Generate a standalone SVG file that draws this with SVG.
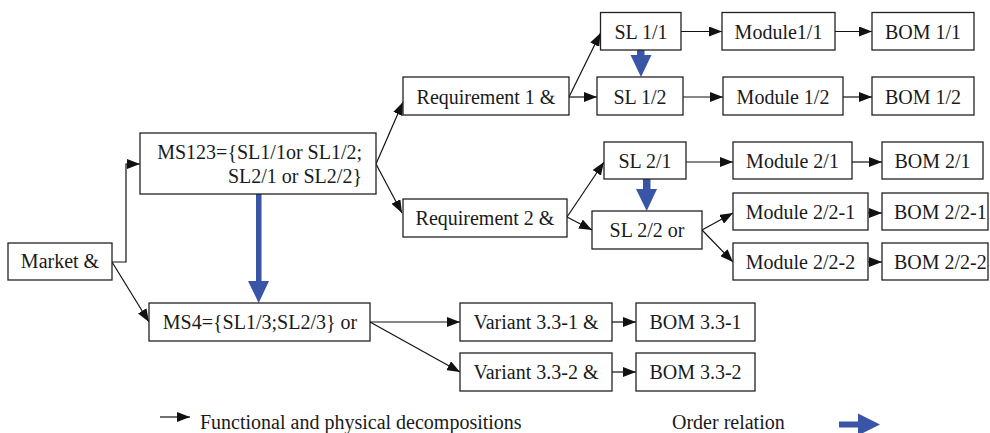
<svg xmlns="http://www.w3.org/2000/svg" width="990" height="433" viewBox="0 0 990 433">
<style>
.box{fill:#fff;stroke:#222;stroke-width:1.3}
.t{font-family:"Liberation Serif","Times New Roman",serif;font-size:20px;fill:#1a1a1a;text-anchor:middle}
.c{stroke:#111;stroke-width:1.2;fill:none;marker-end:url(#ah)}
.o{fill:#3b55a6;stroke:none}
</style>
<defs>
<marker id="ah" markerUnits="userSpaceOnUse" markerWidth="13" markerHeight="10" refX="13" refY="5" orient="auto">
<path d="M0,0 L13,5 L0,10 z" fill="#111"/>
</marker>
</defs>
<rect width="990" height="433" fill="#fff"/>

<g id="connectors">
<polyline class="c" points="112,262 126,262 126,164 140,164"/>
<line class="c" x1="112" y1="262" x2="149" y2="322"/>
<line class="c" x1="376" y1="164" x2="403" y2="102"/>
<line class="c" x1="376" y1="164" x2="402" y2="213"/>
<line class="c" x1="569" y1="97" x2="600.5" y2="33"/>
<line class="c" x1="569" y1="97" x2="597" y2="97"/>
<line class="c" x1="681" y1="31.5" x2="722" y2="31.5"/>
<line class="c" x1="835" y1="31.5" x2="872" y2="31.5"/>
<line class="c" x1="683" y1="97" x2="723" y2="97"/>
<line class="c" x1="843" y1="97" x2="872" y2="97"/>
<line class="c" x1="567" y1="217" x2="604" y2="162"/>
<line class="c" x1="567" y1="217" x2="592" y2="230"/>
<line class="c" x1="686" y1="162" x2="733" y2="162"/>
<line class="c" x1="852" y1="162" x2="882" y2="162"/>
<line class="c" x1="702" y1="230" x2="733" y2="213"/>
<line class="c" x1="702" y1="230" x2="733" y2="262"/>
<line class="c" x1="868" y1="213" x2="882" y2="213"/>
<line class="c" x1="868" y1="262" x2="882" y2="262"/>
<line class="c" x1="370" y1="322" x2="460" y2="322"/>
<line class="c" x1="370" y1="322" x2="460" y2="372"/>
<line class="c" x1="612" y1="322" x2="636" y2="322"/>
<line class="c" x1="612" y1="372" x2="636" y2="372"/>
<!-- order relations -->
<rect class="o" x="256" y="194" width="5.5" height="88"/>
<polygon class="o" points="248,281 269,281 258.7,303"/>
<rect class="o" x="637" y="50" width="7.5" height="6"/>
<polygon class="o" points="630.5,55 651.5,55 641,77"/>
<rect class="o" x="643" y="179" width="7.5" height="11"/>
<polygon class="o" points="636,189 657,189 646.7,211"/>
</g>

<g id="market"><rect class="box" x="8" y="243" width="104" height="37"/><text class="t" x="60" y="268">Market &amp;</text></g>
<g id="ms123"><rect class="box" x="140" y="133" width="236" height="61"/><text class="t" x="362" y="159" style="text-anchor:end">MS123={SL1/1or SL1/2;</text><text class="t" x="362" y="183" style="text-anchor:end">SL2/1 or SL2/2}</text></g>
<g id="ms4"><rect class="box" x="149" y="303" width="221" height="38"/><text class="t" x="260" y="329">MS4={SL1/3;SL2/3} or</text></g>
<g id="req1"><rect class="box" x="403" y="77" width="166" height="38"/><text class="t" x="486" y="104">Requirement 1 &amp;</text></g>
<g id="req2"><rect class="box" x="403" y="199" width="164" height="38"/><text class="t" x="485" y="225">Requirement 2 &amp;</text></g>
<g id="sl11"><rect class="box" x="600.5" y="12.5" width="80.5" height="37.5"/><text class="t" x="641" y="38.5">SL 1/1</text></g>
<g id="sl12"><rect class="box" x="597" y="77" width="86" height="38"/><text class="t" x="640" y="104">SL 1/2</text></g>
<g id="mod11"><rect class="box" x="722" y="12.5" width="113" height="37.5"/><text class="t" x="778.5" y="38.5">Module1/1</text></g>
<g id="mod12"><rect class="box" x="723" y="77" width="120" height="38"/><text class="t" x="783" y="104">Module 1/2</text></g>
<g id="bom11"><rect class="box" x="872" y="12.5" width="102" height="37.5"/><text class="t" x="923" y="38.5">BOM 1/1</text></g>
<g id="bom12"><rect class="box" x="872" y="77" width="102" height="38"/><text class="t" x="923" y="104">BOM 1/2</text></g>
<g id="sl21"><rect class="box" x="604" y="142" width="82" height="37"/><text class="t" x="645" y="167.5">SL 2/1</text></g>
<g id="sl22"><rect class="box" x="592" y="211" width="110" height="38"/><text class="t" x="647" y="237">SL 2/2 or</text></g>
<g id="mod21"><rect class="box" x="733" y="142" width="119" height="37"/><text class="t" x="792.5" y="167.5">Module 2/1</text></g>
<g id="bom21"><rect class="box" x="882" y="142" width="101" height="37"/><text class="t" x="932.5" y="167.5">BOM 2/1</text></g>
<g id="mod221"><rect class="box" x="733" y="193" width="135" height="37"/><text class="t" x="800.5" y="218.5">Module 2/2-1</text></g>
<g id="bom221"><rect class="box" x="882" y="193" width="106" height="37"/><text class="t" x="894" y="218.5" style="text-anchor:start">BOM 2/2-1</text></g>
<g id="mod222"><rect class="box" x="733" y="243" width="135" height="37"/><text class="t" x="800.5" y="268.5">Module 2/2-2</text></g>
<g id="bom222"><rect class="box" x="882" y="243" width="106" height="37"/><text class="t" x="894" y="268.5" style="text-anchor:start">BOM 2/2-2</text></g>
<g id="var1"><rect class="box" x="460" y="303" width="152" height="38"/><text class="t" x="536" y="329">Variant 3.3-1 &amp;</text></g>
<g id="bom331"><rect class="box" x="636" y="303" width="119" height="38"/><text class="t" x="695.5" y="329">BOM 3.3-1</text></g>
<g id="var2"><rect class="box" x="460" y="353" width="152" height="38"/><text class="t" x="536" y="379">Variant 3.3-2 &amp;</text></g>
<g id="bom332"><rect class="box" x="636" y="353" width="119" height="38"/><text class="t" x="695.5" y="379">BOM 3.3-2</text></g>

<g id="legend">
<line x1="160" y1="417" x2="190" y2="417" stroke="#111" stroke-width="1.2" marker-end="url(#ah)"/>
<text class="t" x="200" y="429" style="text-anchor:start">Functional and physical decompositions</text>
<text class="t" x="672" y="429" style="text-anchor:start">Order relation</text>
<rect class="o" x="839" y="421.5" width="20" height="6"/>
<polygon class="o" points="858,413.5 880,424.5 858,435.5"/>
</g>
</svg>
